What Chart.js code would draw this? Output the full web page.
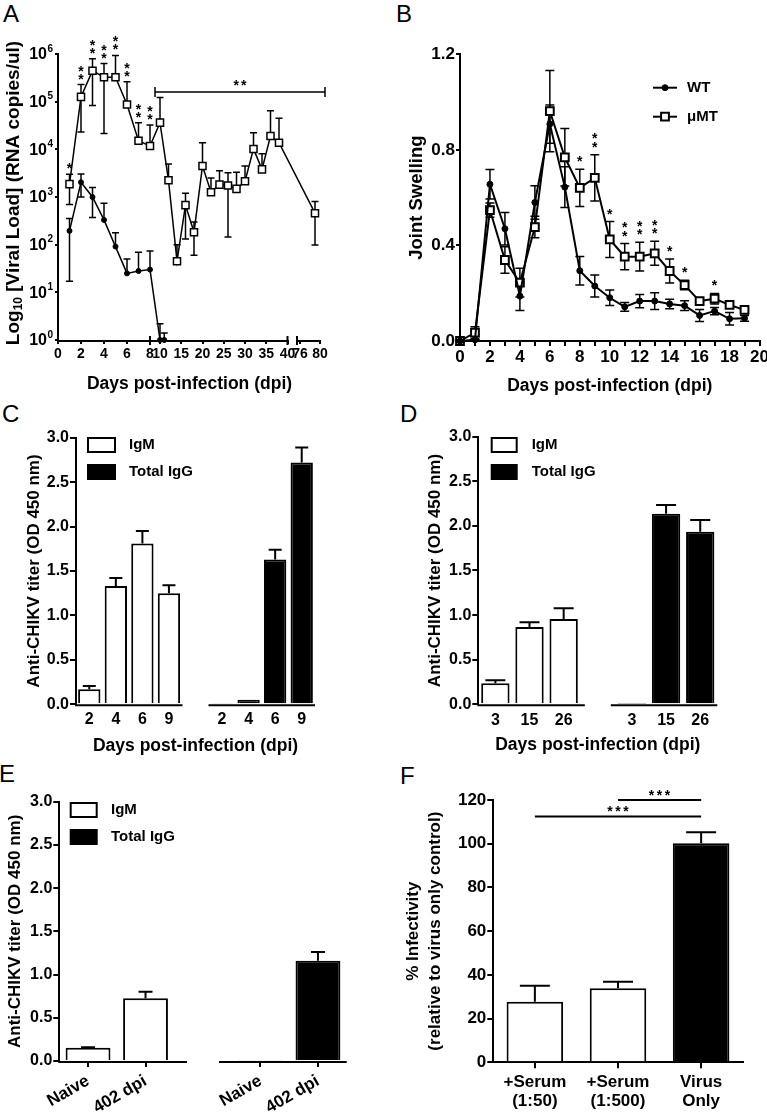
<!DOCTYPE html>
<html>
<head>
<meta charset="utf-8">
<title>CHIKV panels</title>
<script src="https://cdn.jsdelivr.net/npm/chart.js@4/dist/chart.umd.min.js"></script>
<style>
  html, body { margin: 0; padding: 0; background: #fff; }
  body { position: relative; width: 767px; height: 1115px; overflow: hidden; font-family: "Liberation Sans", Arial, sans-serif; }
  canvas { position: absolute; }
  .tag { position: absolute; font-size: 24px; line-height: 24px; font-weight: normal; color: #000; }
</style>
</head>
<body>
<div class="tag" style="left:3px;top:2px">A</div>
<div class="tag" style="left:396px;top:2px">B</div>
<div class="tag" style="left:2px;top:402px">C</div>
<div class="tag" style="left:400px;top:402px">D</div>
<div class="tag" style="left:-1px;top:762px">E</div>
<div class="tag" style="left:400px;top:764px">F</div>
<canvas id="chartA"></canvas>
<canvas id="chartB"></canvas>
<canvas id="chartC"></canvas>
<canvas id="chartD"></canvas>
<canvas id="chartE"></canvas>
<canvas id="chartF"></canvas>
<script>
// ---- A: viral load, log scale ----
const daysA_muMT = [1, 2, 3, 4, 5, 6, 7, 8, 10, 12, 14, 16, 18, 20, 22, 24, 26, 28, 30, 32, 34, 36, 38, 79];
const loadA_muMT = [1860, 126000, 447000, 324000, 324000, 87000, 15100, 11700, 36300, 2240, 45, 676, 182, 4470, 1260, 1820, 1740, 1480, 2140, 10200, 3800, 19000, 13800, 457];
const upperA_muMT = [3000, 229000, 794000, 631000, 933000, 263000, 36300, 32400, 123000, 4900, 100, 1200, 300, 13800, 2500, 3550, 3240, 3300, 4470, 22400, 8100, 64600, 44700, 800];
const lowerA_muMT = [700, 23000, 83000, 21400, null, null, null, null, null, null, null, 132, 60, null, null, null, 145, null, null, null, null, null, null, 98];
const starsA_muMT = ['*', '**', '**', '**', '**', '**', '**', '**'];
const daysA_WT = [1, 2, 3, 4, 5, 6, 7, 8, 10, 11];
const loadA_WT = [195, 2040, 1000, 331, 91, 25, 28, 30, 1, 1];
const upperA_WT = [355, 3020, 1580, 740, 178, 50, 69, 74, 2.2, 1.4];
const lowerA_WT = [17, 1000, 370, null, null, null, null, null, null, null];
const ticksA_days = [0, 2, 4, 6, 8, 10, 15, 20, 25, 30, 35, 40, 76, 80];
const ticksA_load = [1, 10, 100, 1000, 10000, 100000, 1000000];
const bracketA = { from: 9, to: 81, level: 160000, text: '**' };

// ---- B: joint swelling ----
const daysB = [0, 1, 2, 3, 4, 5, 6, 7, 8, 9, 10, 11, 12, 13, 14, 15, 16, 17, 18, 19];
const swellB_WT = [0, 0.005, 0.656, 0.47, 0.188, 0.58, 0.908, 0.644, 0.294, 0.23, 0.181, 0.143, 0.167, 0.167, 0.155, 0.148, 0.107, 0.125, 0.093, 0.095];
const semB_WT = [0, 0, 0.062, 0.068, 0.06, 0.07, 0.08, 0.085, 0.06, 0.046, 0.032, 0.018, 0.028, 0.035, 0.02, 0.02, 0.025, 0.015, 0.026, 0.012];
const swellB_muMT = [0, 0.035, 0.548, 0.339, 0.244, 0.477, 0.962, 0.769, 0.641, 0.683, 0.425, 0.353, 0.353, 0.367, 0.293, 0.234, 0.167, 0.177, 0.151, 0.13];
const semB_muMT = [0, 0.025, 0.03, 0.055, 0.06, 0.045, 0.17, 0.12, 0.078, 0.097, 0.075, 0.055, 0.06, 0.05, 0.05, 0.02, 0.012, 0.022, 0.012, 0.015];
const starsB_muMT = ['', '', '', '', '', '', '', '', '*', '**', '*', '**', '**', '**', '*', '*', '', '*', '', ''];

// ---- C ----
const labelsC = ['2', '4', '6', '9', '', '2', '4', '6', '9'];
const igmC = [0.17, 1.33, 1.81, 1.25];
const igmErrC = [0.035, 0.09, 0.14, 0.09];
const iggC = [0.01, 0.05, 1.63, 2.72];
const iggErrC = [null, null, 0.11, 0.17];

// ---- D ----
const labelsD = ['3', '15', '26', '', '3', '15', '26'];
const igmD = [0.236, 0.866, 0.956];
const igmErrD = [0.034, 0.054, 0.12];
const iggD = [0.005, 2.137, 1.935];
const iggErrD = [null, 0.097, 0.13];

// ---- E ----
const labelsE = ['Naive', '402 dpi', '', 'Naive', '402 dpi'];
const igmE = [0.154, 0.726];
const igmErrE = [0.006, 0.074];
const iggE = [0.01, 1.16];
const iggErrE = [null, 0.1];

// ---- F ----
const labelsF = [['+Serum', '(1:50)'], ['+Serum', '(1:500)'], ['Virus', 'Only']];
const infectF = [27.7, 33.9, 100.2];
const infectErrF = [7.3, 3.0, 5.1];
const sigF = [
  { from: 0, to: 2, level: 112.5, text: '***' },
  { from: 1, to: 2, level: 120, text: '***' }
];

// ---- layout ----
const FONT = '"Liberation Sans", Arial, Helvetica, sans-serif';
const P = {
  A: { box: { left: 0, top: 30, w: 380, h: 370 }, plot: { left: 58, top: 54, right: 321, bottom: 340 } },
  B: { box: { left: 380, top: 30, w: 387, h: 370 }, plot: { left: 460, top: 54.3, right: 760, bottom: 341 } },
  C: { box: { left: 0, top: 410, w: 380, h: 350 }, plot: { left: 76, top: 437.7, right: 315, bottom: 704.3 } },
  D: { box: { left: 380, top: 410, w: 387, h: 350 }, plot: { left: 478.3, top: 436.7, right: 717.3, bottom: 704.3 } },
  E: { box: { left: 0, top: 770, w: 380, h: 345 }, plot: { left: 59.3, top: 801.7, right: 346.7, bottom: 1061 } },
  F: { box: { left: 380, top: 770, w: 387, h: 345 }, plot: { left: 493.3, top: 800, right: 742.7, bottom: 1062.3 } }
};

// broken x axis of panel A (axis units = px along the plot)
const segmentsA = [
  { from: 0, to: 8, start: 0, end: 92 },
  { from: 10, to: 40, start: 102, end: 229.5 },
  { from: 76, to: 80, start: 242, end: 262 }
];
const axisPiecesA = [[0, 229.5], [239, 263]];
const axisBreaksA = [92, 229.5, 239];

function mapDay(d) {
  const s = segmentsA;
  for (let i = 0; i < s.length; i++) {
    const g = s[i];
    if (d <= g.to || i === s.length - 1) {
      if (d >= g.from || i === 0) return g.start + (d - g.from) * (g.end - g.start) / (g.to - g.from);
      const p = s[i - 1];
      return p.end + (d - p.to) * (g.start - p.end) / (g.from - p.to);
    }
  }
}

class BrokenScale extends Chart.LinearScale {
  static id = 'broken';
  buildTicks() {
    return ticksA_days.map(v => ({ value: v }));
  }
  getPixelForValue(value) {
    return super.getPixelForValue(value == null ? value : mapDay(value));
  }
}
Chart.register(BrokenScale);

function place(id, p) {
  const c = document.getElementById(id);
  c.width = p.box.w;
  c.height = p.box.h;
  c.style.left = p.box.left + 'px';
  c.style.top = p.box.top + 'px';
  return c;
}

function frame(p) {
  const b = p.box, q = p.plot;
  return {
    padding: { left: 0, bottom: 0, top: q.top - b.top, right: b.left + b.w - q.right },
    fitY: s => { s.width = q.left - b.left; s.paddingTop = 0; s.paddingBottom = 0; },
    fitX: s => { s.height = b.top + b.h - q.bottom; s.paddingLeft = 0; s.paddingRight = 0; }
  };
}

function pad(arr, start, n) {
  return Array.from({ length: n }, (_, i) => (i >= start && i < start + arr.length) ? arr[i - start] : null);
}

function addErr(vals, errs) {
  return vals.map((v, i) => errs[i] == null ? null : v + errs[i]);
}

function drawStars(ctx, n, cx, cy, pitch, vertical) {
  for (let k = 0; k < n; k++) {
    const off = (k - (n - 1) / 2) * pitch;
    const x = vertical ? cx : cx + off;
    const y = vertical ? cy - k * pitch : cy;
    ctx.fillText('*', x, y + 8);
  }
}

Chart.defaults.font.family = FONT;
Chart.defaults.font.weight = 'bold';
Chart.defaults.font.size = 16;
Chart.defaults.color = '#000';
Chart.defaults.animation = false;
Chart.defaults.events = [];
Chart.defaults.plugins.legend.display = false;
Chart.defaults.plugins.tooltip.enabled = false;

// ---- generic plugins ----
const errorBars = {
  id: 'errorBars',
  beforeDatasetsDraw(chart, args, opts) {
    const ctx = chart.ctx, y = chart.scales.y;
    const cap = opts.cap || 4;
    chart.data.datasets.forEach((ds, di) => {
      if (!ds.errHi && !ds.errLo) return;
      const meta = chart.getDatasetMeta(di);
      ctx.save();
      ctx.strokeStyle = '#000';
      ctx.lineWidth = opts.width || 1.5;
      meta.data.forEach((el, i) => {
        if (ds.data[i] == null) return;
        [ds.errHi && ds.errHi[i], ds.errLo && ds.errLo[i]].forEach(lim => {
          if (lim == null) return;
          const ly = y.getPixelForValue(lim);
          ctx.beginPath();
          ctx.moveTo(el.x, el.y);
          ctx.lineTo(el.x, ly);
          ctx.moveTo(el.x - cap, ly);
          ctx.lineTo(el.x + cap, ly);
          ctx.stroke();
        });
      });
      ctx.restore();
    });
  }
};

const sigStars = {
  id: 'sigStars',
  afterDatasetsDraw(chart, args, opts) {
    const ctx = chart.ctx, y = chart.scales.y;
    chart.data.datasets.forEach((ds, di) => {
      if (!ds.stars) return;
      const meta = chart.getDatasetMeta(di);
      ctx.save();
      ctx.fillStyle = '#000';
      ctx.textAlign = 'center';
      ctx.font = 'bold 14px ' + FONT;
      ds.stars.forEach((s, i) => {
        if (!s) return;
        const el = meta.data[i];
        const top = ds.errHi && ds.errHi[i] != null ? y.getPixelForValue(ds.errHi[i]) : el.y - 5;
        drawStars(ctx, s.length, el.x, top - opts.gap, opts.step, true);
      });
      ctx.restore();
    });
  }
};

const boxLegend = {
  id: 'boxLegend',
  afterDraw(chart, args, o) {
    if (!o || !o.show) return;
    const ctx = chart.ctx, a = chart.chartArea;
    ctx.save();
    chart.data.datasets.forEach((ds, i) => {
      const bx = a.left + o.x, by = a.top + o.y + i * o.step;
      ctx.fillStyle = ds.backgroundColor;
      ctx.fillRect(bx, by, o.w, o.h);
      ctx.strokeStyle = '#000';
      ctx.lineWidth = 2;
      ctx.strokeRect(bx, by, o.w, o.h);
      ctx.fillStyle = '#000';
      ctx.font = 'bold 15px ' + FONT;
      ctx.textAlign = 'left';
      ctx.textBaseline = 'middle';
      ctx.fillText(ds.label, a.left + o.textX, by + o.h / 2);
    });
    ctx.restore();
  }
};

const brokenBaseline = {
  id: 'brokenBaseline',
  afterDraw(chart, args, o) {
    if (!o || o.gap == null) return;
    const ctx = chart.ctx, a = chart.chartArea, x = chart.scales.x;
    const gx = x.getPixelForValue(o.gap);
    ctx.save();
    ctx.strokeStyle = '#000';
    ctx.lineWidth = 2;
    ctx.beginPath();
    ctx.moveTo(a.left - 1, a.bottom + 1);
    ctx.lineTo(gx - o.half, a.bottom + 1);
    ctx.moveTo(gx + o.half, a.bottom + 1);
    ctx.lineTo(a.right, a.bottom + 1);
    ctx.stroke();
    ctx.restore();
  }
};

Chart.register(errorBars, sigStars, boxLegend, brokenBaseline);

// ---- panel A specific ----
const logTickLabels = {
  id: 'logTickLabels',
  afterDraw(chart) {
    const y = chart.scales.y, ctx = chart.ctx;
    const x0 = chart.chartArea.left - 11;
    ctx.save();
    ctx.fillStyle = '#000';
    ctx.textBaseline = 'middle';
    y.ticks.forEach(t => {
      const py = y.getPixelForValue(t.value);
      ctx.font = 'bold 16px ' + FONT;
      ctx.textAlign = 'right';
      ctx.fillText('10', x0, py + 1);
      ctx.font = 'bold 10px ' + FONT;
      ctx.textAlign = 'left';
      ctx.fillText(String(Math.round(Math.log10(t.value))), x0 + 0.5, py - 5);
    });
    ctx.restore();
  }
};

const yTitleA = {
  id: 'yTitleA',
  afterDraw(chart) {
    const ctx = chart.ctx, a = chart.chartArea;
    const parts = [
      { t: 'Log', size: 19, dy: 0 },
      { t: '10', size: 12, dy: 5 },
      { t: ' [Viral Load] (RNA copies/ul)', size: 19, dy: 0 }
    ];
    ctx.save();
    ctx.translate(14, (a.top + a.bottom) / 2 - 4);
    ctx.rotate(-Math.PI / 2);
    ctx.fillStyle = '#000';
    ctx.textBaseline = 'middle';
    ctx.textAlign = 'left';
    let total = 0;
    parts.forEach(p => { ctx.font = 'bold ' + p.size + 'px ' + FONT; p.w = ctx.measureText(p.t).width; total += p.w; });
    let cx = -total / 2;
    parts.forEach(p => {
      ctx.font = 'bold ' + p.size + 'px ' + FONT;
      ctx.fillText(p.t, cx, p.dy);
      cx += p.w;
    });
    ctx.restore();
  }
};

const brokenAxisA = {
  id: 'brokenAxisA',
  afterDraw(chart) {
    const ctx = chart.ctx, a = chart.chartArea, x = chart.scales.x, y = chart.scales.y;
    const uPx = u => x.getPixelForDecimal((u - x.min) / (x.max - x.min));
    ctx.save();
    ctx.strokeStyle = '#000';
    ctx.lineWidth = 2;
    ctx.beginPath();
    axisPiecesA.forEach(([u1, u2]) => {
      ctx.moveTo(uPx(u1) - (u1 === 0 ? 1 : 0), a.bottom + 1);
      ctx.lineTo(uPx(u2), a.bottom + 1);
    });
    axisBreaksA.forEach(u => {
      ctx.moveTo(uPx(u), a.bottom - 4);
      ctx.lineTo(uPx(u), a.bottom + 5);
    });
    ctx.stroke();
    // significance bracket over the late phase
    const x1 = x.getPixelForValue(bracketA.from), x2 = x.getPixelForValue(bracketA.to);
    const by = y.getPixelForValue(bracketA.level);
    ctx.lineWidth = 1.5;
    ctx.beginPath();
    ctx.moveTo(x1, by - 5); ctx.lineTo(x1, by + 5);
    ctx.moveTo(x1, by); ctx.lineTo(x2, by);
    ctx.moveTo(x2, by - 5); ctx.lineTo(x2, by + 5);
    ctx.stroke();
    ctx.fillStyle = '#000';
    ctx.textAlign = 'center';
    ctx.font = 'bold 14px ' + FONT;
    drawStars(ctx, bracketA.text.length, (x1 + x2) / 2, by - 10, 7.5, false);
    ctx.restore();
  }
};

const fA = frame(P.A);
new Chart(place('chartA', P.A), {
  type: 'line',
  data: {
    datasets: [
      {
        label: 'WT',
        data: daysA_WT.map((d, i) => ({ x: d, y: loadA_WT[i] })),
        errHi: upperA_WT, errLo: lowerA_WT,
        borderColor: '#000', borderWidth: 1.5,
        pointStyle: 'circle', pointRadius: 2.5,
        pointBackgroundColor: '#000', pointBorderColor: '#000', pointBorderWidth: 1,
        clip: false
      },
      {
        label: 'μMT',
        data: daysA_muMT.map((d, i) => ({ x: d, y: loadA_muMT[i] })),
        errHi: upperA_muMT, errLo: lowerA_muMT, stars: starsA_muMT,
        borderColor: '#000', borderWidth: 1.5,
        pointStyle: 'rect', pointRadius: 5,
        pointBackgroundColor: '#fff', pointBorderColor: '#000', pointBorderWidth: 1.5,
        clip: false
      }
    ]
  },
  options: {
    responsive: false,
    devicePixelRatio: 1,
    layout: { padding: fA.padding },
    scales: {
      x: {
        type: 'broken', min: 0, max: 263,
        afterFit: fA.fitX,
        border: { display: false },
        grid: { display: true, drawOnChartArea: false, tickLength: 4, color: '#000', lineWidth: 2 },
        ticks: { autoSkip: false, maxRotation: 0, padding: 2, font: { size: 14 }, callback: v => String(v) },
        title: { display: true, text: 'Days post-infection (dpi)', font: { size: 17.5 }, padding: { top: 0, bottom: 5.5 } }
      },
      y: {
        type: 'logarithmic', min: 1, max: 1000000,
        afterFit: fA.fitY,
        afterBuildTicks: s => { s.ticks = ticksA_load.map(v => ({ value: v })); },
        border: { color: '#000', width: 2 },
        grid: { display: true, drawOnChartArea: false, tickLength: 3, color: '#000', lineWidth: 2 },
        ticks: { display: false }
      }
    },
    plugins: { errorBars: { cap: 3.5, width: 1.5 }, sigStars: { gap: 9, step: 8 } }
  },
  plugins: [logTickLabels, yTitleA, brokenAxisA]
});

// ---- panel B ----
const legendB = {
  id: 'legendB',
  afterDraw(chart) {
    const ctx = chart.ctx, a = chart.chartArea;
    ctx.save();
    chart.data.datasets.forEach((ds, i) => {
      const y = a.top + 33.4 + i * 29;
      const x1 = a.left + 193, x2 = a.left + 217;
      ctx.strokeStyle = '#000';
      ctx.lineWidth = 2;
      ctx.beginPath(); ctx.moveTo(x1, y); ctx.lineTo(x2, y); ctx.stroke();
      ctx.fillStyle = ds.pointBackgroundColor;
      ctx.lineWidth = ds.pointBorderWidth;
      Chart.helpers.drawPoint(ctx, { pointStyle: ds.pointStyle, radius: ds.pointRadius, borderWidth: ds.pointBorderWidth, rotation: 0 }, (x1 + x2) / 2, y);
      ctx.fillStyle = '#000';
      ctx.font = 'bold 15px ' + FONT;
      ctx.textAlign = 'left';
      ctx.textBaseline = 'middle';
      ctx.fillText(ds.label, a.left + 227, y);
    });
    ctx.restore();
  }
};

const fB = frame(P.B);
new Chart(place('chartB', P.B), {
  type: 'line',
  data: {
    datasets: [
      {
        label: 'WT',
        data: daysB.map((d, i) => ({ x: d, y: swellB_WT[i] })),
        errHi: addErr(swellB_WT, semB_WT), errLo: addErr(swellB_WT, semB_WT.map(e => -e)),
        borderColor: '#000', borderWidth: 2,
        pointStyle: 'circle', pointRadius: 3,
        pointBackgroundColor: '#000', pointBorderColor: '#000', pointBorderWidth: 1,
        clip: false
      },
      {
        label: 'μMT',
        data: daysB.map((d, i) => ({ x: d, y: swellB_muMT[i] })),
        errHi: addErr(swellB_muMT, semB_muMT), errLo: addErr(swellB_muMT, semB_muMT.map(e => -e)),
        stars: starsB_muMT,
        borderColor: '#000', borderWidth: 2,
        pointStyle: 'rect', pointRadius: 5.5,
        pointBackgroundColor: '#fff', pointBorderColor: '#000', pointBorderWidth: 2,
        clip: false
      }
    ]
  },
  options: {
    responsive: false,
    devicePixelRatio: 1,
    layout: { padding: fB.padding },
    scales: {
      x: {
        type: 'linear', min: 0, max: 20,
        afterFit: fB.fitX,
        border: { color: '#000', width: 2 },
        grid: { display: true, drawOnChartArea: false, tickLength: 5, color: '#000', lineWidth: 2 },
        ticks: { stepSize: 1, autoSkip: false, maxRotation: 0, padding: 1, font: { size: 17 }, callback: v => v % 2 === 0 ? String(v) : '' },
        title: { display: true, text: 'Days post-infection (dpi)', font: { size: 17.5 }, padding: { top: 0, bottom: 3.5 } }
      },
      y: {
        type: 'linear', min: 0, max: 1.2,
        afterFit: fB.fitY,
        border: { color: '#000', width: 2 },
        grid: { display: true, drawOnChartArea: false, tickLength: 4, color: '#000', lineWidth: 2 },
        ticks: { stepSize: 0.4, padding: 1, font: { size: 17 }, callback: v => v.toFixed(1) },
        title: { display: true, text: 'Joint Swelling', font: { size: 18.5 }, padding: { top: 25.9, bottom: 0 } }
      }
    },
    plugins: { errorBars: { cap: 4.5, width: 1.5 }, sigStars: { gap: 11, step: 8.3 } }
  },
  plugins: [legendB]
});

// ---- bar panels C, D, E ----
function antibodyChart(id, p, labels, igm, igmErr, igg, iggErr, cfg) {
  const f = frame(p);
  const n = labels.length;
  const gStart = labels.indexOf('') + 1;
  return new Chart(place(id, p), {
    type: 'bar',
    data: {
      labels: labels,
      datasets: [
        {
          label: 'IgM',
          data: pad(igm, 0, n), errHi: pad(addErr(igm, igmErr), 0, n),
          backgroundColor: '#fff', borderColor: '#000', borderWidth: 2,
          grouped: false, categoryPercentage: 1, barPercentage: cfg.bar
        },
        {
          label: 'Total IgG',
          data: pad(igg, gStart, n), errHi: pad(addErr(igg, iggErr), gStart, n),
          backgroundColor: '#000', borderColor: '#000', borderWidth: 2,
          grouped: false, categoryPercentage: 1, barPercentage: cfg.bar
        }
      ]
    },
    options: {
      responsive: false,
      devicePixelRatio: 1,
      layout: { padding: f.padding },
      scales: {
        x: {
          type: 'category',
          afterFit: f.fitX,
          border: { display: false },
          grid: {
            display: cfg.xTicks, drawOnChartArea: false, drawTicks: cfg.xTicks, offset: false,
            tickLength: 6, lineWidth: 2,
            color: '#000',
            tickColor: c => labels[c.index] === '' ? 'rgba(0,0,0,0)' : '#000'
          },
          ticks: Object.assign({ autoSkip: false, padding: cfg.xPad, font: { size: cfg.xFont } }, cfg.rot ? { minRotation: cfg.rot, maxRotation: cfg.rot } : { maxRotation: 0 }),
          title: cfg.xTitle
            ? { display: true, text: 'Days post-infection (dpi)', font: { size: 17.5 }, padding: { top: 0, bottom: cfg.xTitlePad } }
            : { display: false }
        },
        y: {
          type: 'linear', min: 0, max: 3,
          afterFit: f.fitY,
          border: { color: '#000', width: 2 },
          grid: { display: true, drawOnChartArea: false, tickLength: 6, color: '#000', lineWidth: 2 },
          ticks: { stepSize: 0.5, padding: 1, font: { size: cfg.yFont }, callback: v => v.toFixed(1) },
          title: { display: true, text: 'Anti-CHIKV titer (OD 450 nm)', font: { size: 17 }, padding: { top: cfg.yTitlePad, bottom: 0 } }
        }
      },
      plugins: {
        errorBars: { cap: cfg.cap, width: 2 },
        boxLegend: cfg.legend,
        brokenBaseline: { gap: gStart - 1, half: cfg.half }
      }
    }
  });
}

antibodyChart('chartC', P.C, labelsC, igmC, igmErrC, iggC, iggErrC, {
  bar: 0.84, cap: 6.5, half: 13, xTicks: false, xPad: 6, xFont: 16, yFont: 16,
  xTitle: true, xTitlePad: 3, yTitlePad: 23.8,
  legend: { show: true, x: 12, y: 0.3, step: 27, w: 27, h: 14, textX: 53 }
});

antibodyChart('chartD', P.D, labelsD, igmD, igmErrD, iggD, iggErrD, {
  bar: 0.83, cap: 10, half: 13, xTicks: false, xPad: 7, xFont: 16, yFont: 16,
  xTitle: true, xTitlePad: 4.5, yTitlePad: 45.3,
  legend: { show: true, x: 13.4, y: 1.3, step: 27, w: 25, h: 14, textX: 53.4 }
});

antibodyChart('chartE', P.E, labelsE, igmE, igmErrE, iggE, iggErrE, {
  bar: 0.78, cap: 7, half: 16, xTicks: true, xPad: 4, xFont: 17, yFont: 16, rot: 30,
  xTitle: false, yTitlePad: 4.8,
  legend: { show: true, x: 11.4, y: 1.3, step: 27, w: 26, h: 14, textX: 51.7 }
});

// ---- panel F ----
const sigLinesF = {
  id: 'sigLinesF',
  afterDraw(chart) {
    const ctx = chart.ctx, x = chart.scales.x, y = chart.scales.y;
    ctx.save();
    ctx.strokeStyle = '#000';
    ctx.lineWidth = 2;
    ctx.fillStyle = '#000';
    ctx.textAlign = 'center';
    ctx.font = 'bold 14px ' + FONT;
    sigF.forEach(s => {
      const x1 = x.getPixelForValue(s.from), x2 = x.getPixelForValue(s.to);
      const py = y.getPixelForValue(s.level);
      ctx.beginPath(); ctx.moveTo(x1, py); ctx.lineTo(x2, py); ctx.stroke();
      drawStars(ctx, s.text.length, (x1 + x2) / 2, py - 8, 8, false);
    });
    ctx.restore();
  }
};

const fF = frame(P.F);
new Chart(place('chartF', P.F), {
  type: 'bar',
  data: {
    labels: labelsF,
    datasets: [{
      label: '% Infectivity',
      data: infectF,
      errHi: addErr(infectF, infectErrF),
      backgroundColor: ['#fff', '#fff', '#000'],
      borderColor: '#000', borderWidth: 2,
      categoryPercentage: 1, barPercentage: 0.68
    }]
  },
  options: {
    responsive: false,
    devicePixelRatio: 1,
    layout: { padding: fF.padding },
    scales: {
      x: {
        type: 'category',
        afterFit: fF.fitX,
        border: { color: '#000', width: 2 },
        grid: { display: true, drawOnChartArea: false, offset: false, tickLength: 6, color: '#000', lineWidth: 2 },
        ticks: { autoSkip: false, maxRotation: 0, padding: 4, font: { size: 17, lineHeight: 1.15 } }
      },
      y: {
        type: 'linear', min: 0, max: 120,
        afterFit: fF.fitY,
        border: { color: '#000', width: 2 },
        grid: { display: true, drawOnChartArea: false, tickLength: 6, color: '#000', lineWidth: 2 },
        ticks: { stepSize: 20, padding: 1, font: { size: 17 } },
        title: {
          display: true,
          text: ['% Infectivity', '(relative to virus only control)'],
          font: { size: 17, lineHeight: 1.3 },
          padding: { top: 22, bottom: 0 }
        }
      }
    },
    plugins: { errorBars: { cap: 15, width: 2 } }
  },
  plugins: [sigLinesF]
});
</script>
</body>
</html>
